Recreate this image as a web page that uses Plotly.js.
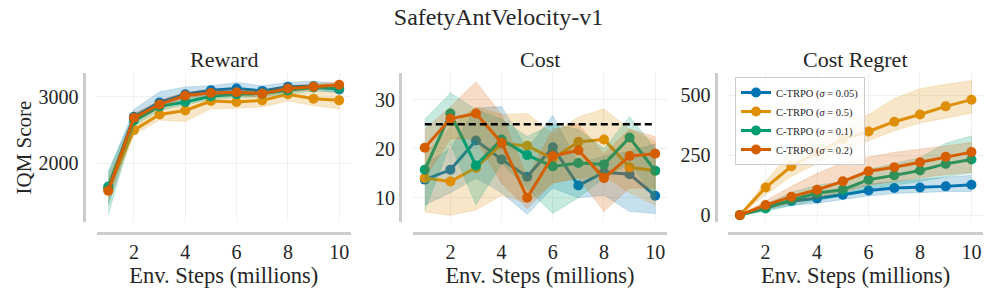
<!DOCTYPE html>
<html>
<head>
<meta charset="utf-8">
<script src="https://cdn.plot.ly/plotly-3.0.1.min.js"></script>
<style>html,body{margin:0;padding:0;background:#fff;}#chart{width:997px;height:299px;}</style>
</head>
<body>
<div id="chart"></div>
<script>
// ---------- DATA ----------
const steps = [1, 2, 3, 4, 5, 6, 7, 8, 9, 10];
const seriesNames = ['C-TRPO (<i>σ</i> = 0.05)', 'C-TRPO (<i>σ</i> = 0.5)', 'C-TRPO (<i>σ</i> = 0.1)', 'C-TRPO (<i>σ</i> = 0.2)'];
const xTicks = [2, 4, 6, 8, 10];
const costLimit = 25;

// Reward (IQM) mean / lower / upper
const rewardS005 = [1620, 2700, 2918, 3041, 3103, 3127, 3092, 3153, 3163, 3112];
const rewardS005Lo = [1350, 2600, 2850, 2980, 3040, 3060, 3040, 3100, 3120, 3060];
const rewardS005Hi = [1850, 2810, 3080, 3150, 3170, 3220, 3170, 3220, 3240, 3200];
const rewardS05 = [1600, 2499, 2735, 2796, 2939, 2923, 2949, 3041, 2974, 2949];
const rewardS05Lo = [1400, 2430, 2650, 2630, 2820, 2830, 2850, 2940, 2870, 2820];
const rewardS05Hi = [1800, 2600, 2820, 2900, 3030, 3020, 3040, 3120, 3090, 3070];
const rewardS01 = [1647, 2643, 2858, 2923, 3011, 3041, 3051, 3103, 3143, 3127];
const rewardS01Lo = [1215, 2560, 2800, 2880, 2960, 2990, 3000, 3050, 3090, 3070];
const rewardS01Hi = [1880, 2730, 2920, 2980, 3060, 3090, 3100, 3150, 3190, 3180];
const rewardS02 = [1581, 2684, 2888, 3021, 3061, 3071, 3051, 3127, 3153, 3185];
const rewardS02Lo = [1470, 2620, 2830, 2970, 3010, 3020, 3000, 3080, 3110, 3140];
const rewardS02Hi = [1700, 2750, 2950, 3070, 3110, 3120, 3100, 3170, 3200, 3230];

// Cost
const costS005 = [13.7, 15.7, 21.7, 17.8, 14.3, 20.3, 12.5, 15.2, 14.8, 10.4];
const costS005Lo = [8.5, 11, 14, 11, 6.6, 12, 10, 10.5, 7.2, 6.8];
const costS005Hi = [17, 20, 28.3, 28.6, 20, 26.8, 17, 18.5, 19.5, 21];
const costS05 = [14.0, 13.3, 16.1, 21.0, 20.6, 18.0, 21.4, 21.9, 16.2, 15.5];
const costS05Lo = [7.1, 6.4, 7.5, 10.5, 9, 13, 14, 14.5, 11, 8.5];
const costS05Hi = [19, 24.5, 28.5, 27, 27.2, 23, 26.5, 28.1, 24, 21.5];
const costS01 = [15.7, 27.2, 16.6, 21.9, 18.7, 16.4, 17.1, 16.8, 22.3, 15.5];
const costS01Lo = [7.4, 21, 8.5, 17, 12, 6.8, 10, 14, 17, 10];
const costS01Hi = [26, 31.4, 28, 26, 22.5, 25, 24, 20, 26.6, 20];
const costS02 = [20.2, 26.1, 27.2, 21.2, 10.0, 18.5, 19.7, 14.0, 18.5, 19.0];
const costS02Lo = [14, 22, 22, 13, 7.8, 13, 14, 7.2, 12, 12];
const costS02Hi = [24, 28.5, 33.7, 27, 14, 24, 25, 19, 24, 22.5];

// Cost Regret
const regretS005 = [0, 35, 59, 70, 85, 103, 113, 115, 120, 127];
const regretS005Lo = [0, 22, 40, 50, 65, 80, 90, 95, 98, 99];
const regretS005Hi = [0, 48, 75, 90, 110, 130, 140, 150, 158, 166];
const regretS05 = [0, 115, 204, 262, 317, 349, 390, 420, 454, 482];
const regretS05Lo = [0, 85, 162, 215, 270, 310, 352, 385, 405, 425];
const regretS05Hi = [0, 140, 268, 330, 370, 420, 486, 528, 546, 561];
const regretS01 = [0, 28, 63, 92, 106, 148, 166, 186, 214, 232];
const regretS01Lo = [0, 15, 40, 60, 80, 110, 125, 140, 160, 175];
const regretS01Hi = [0, 45, 95, 125, 140, 190, 215, 240, 300, 331];
const regretS02 = [0, 42, 77, 106, 141, 183, 200, 221, 244, 263];
const regretS02Lo = [0, 25, 50, 70, 95, 125, 140, 155, 170, 179];
const regretS02Hi = [0, 60, 120, 175, 218, 242, 262, 275, 290, 303];

// ---------- STYLE ----------
const colors = ['#0173b2', '#de8f05', '#029e73', '#d55e00'];
const fills = ['rgba(1,115,178,0.22)', 'rgba(222,143,5,0.22)', 'rgba(2,158,115,0.22)', 'rgba(213,94,0,0.22)'];
const FONT = '"Liberation Serif", "DejaVu Serif", serif';
const TXT = '#262626';

const panels = [
  {xa: 'x', ya: 'y', mean: [rewardS005, rewardS05, rewardS01, rewardS02],
   lo: [rewardS005Lo, rewardS05Lo, rewardS01Lo, rewardS02Lo],
   hi: [rewardS005Hi, rewardS05Hi, rewardS01Hi, rewardS02Hi], legend: false},
  {xa: 'x2', ya: 'y2', mean: [costS005, costS05, costS01, costS02],
   lo: [costS005Lo, costS05Lo, costS01Lo, costS02Lo],
   hi: [costS005Hi, costS05Hi, costS01Hi, costS02Hi], legend: false},
  {xa: 'x3', ya: 'y3', mean: [regretS005, regretS05, regretS01, regretS02],
   lo: [regretS005Lo, regretS05Lo, regretS01Lo, regretS02Lo],
   hi: [regretS005Hi, regretS05Hi, regretS01Hi, regretS02Hi], legend: true}
];

const traces = [];
panels.forEach((p, pi) => {
  for (let i = 0; i < 4; i++) {
    traces.push({
      x: steps.concat(steps.slice().reverse()),
      y: p.hi[i].concat(p.lo[i].slice().reverse()),
      xaxis: p.xa, yaxis: p.ya, type: 'scatter', mode: 'lines',
      fill: 'toself', fillcolor: fills[i],
      line: {color: fills[i], width: 0.8},
      hoverinfo: 'skip', showlegend: false
    });
    traces.push({
      x: steps, y: p.mean[i], xaxis: p.xa, yaxis: p.ya,
      type: 'scatter', mode: 'lines+markers', name: seriesNames[i],
      line: {color: colors[i], width: 3},
      marker: {color: colors[i], size: 10},
      cliponaxis: false,
      showlegend: p.legend
    });
  }
  if (pi === 1) {
    traces.push({
      x: [steps[0], steps[steps.length - 1]], y: [costLimit, costLimit],
      xaxis: 'x2', yaxis: 'y2', type: 'scatter', mode: 'lines',
      line: {color: '#000', width: 2.5, dash: '7px,4px'},
      showlegend: false, hoverinfo: 'skip'
    });
  }
});

const xDomains = [[0.0970, 0.3518], [0.4145, 0.6687], [0.7305, 0.9860]];
const yPos = [0.0838, 0.4012, 0.7177];
const yRanges = [[1113, 3358], [5.1, 35.4], [-27.5, 592]];
const yTicks = [[2000, 3000], [10, 20, 30], [0, 250, 500]];
const yDomain = [0.2585, 0.7548];
const panelTitles = ['Reward', 'Cost', 'Cost Regret'];

const layout = {
  width: 997, height: 299,
  margin: {l: 0, r: 0, t: 0, b: 0},
  paper_bgcolor: '#fff', plot_bgcolor: '#fff',
  font: {family: FONT, color: TXT, size: 20},
  title: {text: 'SafetyAntVelocity-v1', x: 0.5, xanchor: 'center', y: 1 - 17 / 299, yanchor: 'middle',
          font: {family: FONT, size: 24, color: TXT}},
  showlegend: true,
  legend: {x: 735 / 997, y: 1 - 77 / 299, xanchor: 'left', yanchor: 'top',
           bgcolor: 'rgba(255,255,255,0.85)', bordercolor: '#cccccc', borderwidth: 1,
           font: {family: FONT, size: 10.5, color: TXT}, itemwidth: 30},
  annotations: [],
  hovermode: false
};

for (let k = 0; k < 3; k++) {
  const xn = k === 0 ? 'xaxis' : 'xaxis' + (k + 1);
  const yn = k === 0 ? 'yaxis' : 'yaxis' + (k + 1);
  layout[xn] = {
    domain: xDomains[k], anchor: 'free', position: 1 - 233.3 / 299,
    range: [0.55, 10.45], tickvals: xTicks, ticks: '',
    showline: true, linecolor: '#cccccc', linewidth: 3,
    showgrid: true, gridcolor: '#f0f0f0', gridwidth: 1, zeroline: false,
    tickfont: {family: FONT, size: 20, color: TXT},
    title: {text: 'Env. Steps (millions)', standoff: 4, font: {family: FONT, size: 22.5, color: TXT}}
  };
  layout[yn] = {
    domain: yDomain, anchor: 'free', position: yPos[k],
    range: yRanges[k], tickvals: yTicks[k], ticks: '',
    showline: true, linecolor: '#cccccc', linewidth: 3,
    showgrid: true, gridcolor: '#f0f0f0', gridwidth: 1, zeroline: false,
    tickfont: {family: FONT, size: 20, color: TXT}
  };
  if (k === 0) {
    layout[yn].title = {text: 'IQM Score', standoff: 0, font: {family: FONT, size: 21, color: TXT}};
  }
  layout.annotations.push({
    text: panelTitles[k], xref: 'paper', yref: 'paper',
    x: (xDomains[k][0] + xDomains[k][1]) / 2, y: 1 - 60 / 299,
    xanchor: 'center', yanchor: 'middle', showarrow: false,
    font: {family: FONT, size: 22, color: TXT}
  });
}

Plotly.newPlot('chart', traces, layout, {displayModeBar: false, staticPlot: true});
</script>
</body>
</html>
